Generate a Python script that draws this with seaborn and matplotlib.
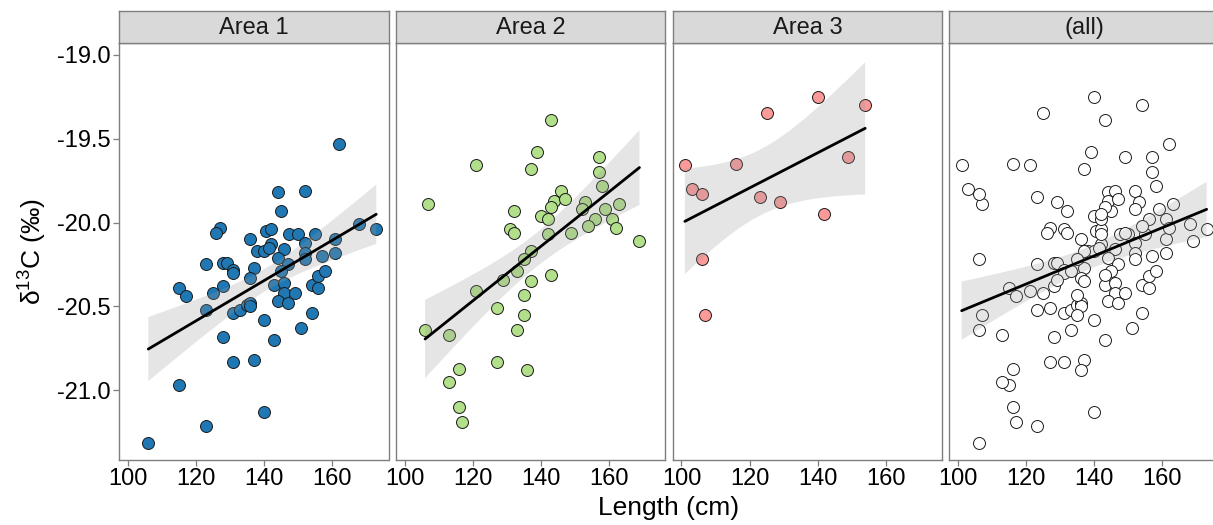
import numpy as np
import pandas as pd
import matplotlib
matplotlib.use("Agg")
import matplotlib.pyplot as plt
import seaborn as sns

# ---------------- data ----------------
area1_len = [162, 144, 152, 145, 127, 126, 140.5, 142, 136, 147.5, 150, 155, 142, 138, 140,
             141.5, 146, 152, 161, 168, 173, 123, 128, 129, 131, 131, 137, 144, 147, 152,
             152, 157, 161, 145, 136, 115, 117, 125, 128, 143, 146, 146, 149, 154, 156,
             158, 156, 123, 131, 133, 135, 136, 136, 144, 147, 140, 154, 151, 128, 143,
             131, 137, 115, 140, 123, 106]
area1_d13c = [-19.53, -19.82, -19.81, -19.93, -20.03, -20.06, -20.05, -20.04, -20.10, -20.07,
              -20.07, -20.07, -20.13, -20.17, -20.17, -20.15, -20.16, -20.12, -20.10, -20.01,
              -20.04, -20.25, -20.24, -20.24, -20.28, -20.30, -20.27, -20.21, -20.25, -20.18,
              -20.22, -20.20, -20.18, -20.29, -20.33, -20.39, -20.44, -20.42, -20.38, -20.37,
              -20.36, -20.42, -20.42, -20.37, -20.32, -20.29, -20.39, -20.52, -20.54, -20.52,
              -20.49, -20.48, -20.50, -20.47, -20.48, -20.58, -20.54, -20.63, -20.68, -20.70,
              -20.83, -20.82, -20.97, -21.13, -21.21, -21.31]

area2_len = [143, 139, 121, 137, 157, 157, 158, 107, 146, 144, 147, 143, 140, 142, 132, 153,
             152, 159, 163, 156, 154, 161, 162, 169, 131, 132, 142, 149, 137, 135, 133, 129,
             121, 137, 143, 135, 127, 135, 133, 106, 113, 127, 136, 116, 113, 116, 117]
area2_d13c = [-19.39, -19.58, -19.66, -19.68, -19.61, -19.70, -19.78, -19.89, -19.81, -19.87,
              -19.86, -19.91, -19.96, -19.98, -19.93, -19.88, -19.92, -19.92, -19.89, -19.98,
              -20.02, -19.98, -20.03, -20.11, -20.04, -20.06, -20.07, -20.06, -20.17, -20.22,
              -20.29, -20.34, -20.41, -20.35, -20.31, -20.43, -20.51, -20.55, -20.64, -20.64,
              -20.67, -20.83, -20.88, -20.87, -20.95, -21.10, -21.19]

area3_len = [140, 154, 125, 101, 116, 149, 103, 106, 123, 129, 142, 106, 107]
area3_d13c = [-19.25, -19.30, -19.35, -19.66, -19.65, -19.61, -19.80, -19.83, -19.85, -19.88,
              -19.95, -20.22, -20.55]

panel_titles = ["Area 1", "Area 2", "Area 3", "(all)"]
panel_colors = ["#1F78B4", "#B2DF8A", "#FB9A99", "#FFFFFF"]
x_ticks = [100, 120, 140, 160]
y_ticks = [-19.0, -19.5, -20.0, -20.5, -21.0]

df = pd.concat([
    pd.DataFrame({"length": area1_len, "d13c": area1_d13c, "area": "Area 1"}),
    pd.DataFrame({"length": area2_len, "d13c": area2_d13c, "area": "Area 2"}),
    pd.DataFrame({"length": area3_len, "d13c": area3_d13c, "area": "Area 3"}),
], ignore_index=True)


def t975(dof):
    # Cornish-Fisher expansion of the Student t 97.5% quantile
    z = 1.959963985
    return (z + (z**3 + z) / (4 * dof)
            + (5 * z**5 + 16 * z**3 + 3 * z) / (96 * dof**2)
            + (3 * z**7 + 19 * z**5 + 17 * z**3 - 15 * z) / (384 * dof**3))


def lm_band(x, y, n=100):
    x = np.asarray(x, float)
    y = np.asarray(y, float)
    b1, b0 = np.polyfit(x, y, 1)
    resid = y - (b0 + b1 * x)
    dof = len(x) - 2
    s = np.sqrt(np.sum(resid**2) / dof)
    xg = np.linspace(x.min(), x.max(), n)
    se = s * np.sqrt(1 / len(x) + (xg - x.mean())**2 / np.sum((x - x.mean())**2))
    yg = b0 + b1 * xg
    t = t975(dof)
    return xg, yg - t * se, yg + t * se


# ---------------- style ----------------
sns.set_theme(style="white")
plt.rcParams["font.family"] = ["Liberation Sans", "DejaVu Sans"]
plt.rcParams["axes.unicode_minus"] = False
plt.rcParams["mathtext.fontset"] = "custom"
plt.rcParams["mathtext.rm"] = "Liberation Sans"
plt.rcParams["mathtext.it"] = "Liberation Sans:italic"

W, H = 1213, 525
fig = plt.figure(figsize=(W / 100, H / 100), dpi=100)

border = "#7F7F7F"
panel_left = [119.0, 395.8, 672.6, 949.4]
panel_w = 269.5
panel_top, panel_bot = 43.3, 460.0
strip_top = 11.0

for i, title in enumerate(panel_titles):
    l = panel_left[i]
    ax = fig.add_axes([l / W, 1 - panel_bot / H, panel_w / W, (panel_bot - panel_top) / H])
    sub = df if title == "(all)" else df[df["area"] == title]
    sns.regplot(data=sub, x="length", y="d13c", ax=ax, ci=None, truncate=True,
                scatter_kws=dict(s=74, facecolor=panel_colors[i], edgecolor="#1a1a1a",
                                 linewidths=0.7, alpha=1, zorder=1),
                line_kws=dict(color="black", lw=2.0, zorder=3))
    xg, lo, hi = lm_band(sub["length"], sub["d13c"])
    ax.fill_between(xg, lo, hi, facecolor="#999999", alpha=0.25, edgecolor="none", zorder=2)

    ax.set_xlim(97.4, 176.6)
    ax.set_ylim(-21.414, -18.933)
    ax.set_xticks(x_ticks)
    ax.set_xticklabels([str(t) for t in x_ticks])
    ax.set_yticks(y_ticks)
    if i == 0:
        ax.set_yticklabels([f"{t:.1f}" for t in y_ticks])
        ax.tick_params(axis="y", left=True, length=4, width=0.9, color=border,
                       labelsize=17, labelcolor="black", pad=2)
    else:
        ax.tick_params(axis="y", left=False, labelleft=False)
    ax.tick_params(axis="x", bottom=True, length=4, width=0.9, color=border,
                   labelsize=17, labelcolor="black", pad=2)
    ax.set_xlabel("")
    ax.set_ylabel("")
    for sp in ax.spines.values():
        sp.set_color(border)
        sp.set_linewidth(1.0)
        sp.set_visible(True)
    ax.set_facecolor("white")

    # strip
    sax = fig.add_axes([l / W, 1 - panel_top / H, panel_w / W, (panel_top - strip_top) / H])
    sax.set_facecolor("#D9D9D9")
    sax.set_xticks([])
    sax.set_yticks([])
    for sp in sax.spines.values():
        sp.set_color(border)
        sp.set_linewidth(1.0)
    sax.text(0.5, 0.47, title, ha="center", va="center", fontsize=17,
             color="#1a1a1a", transform=sax.transAxes)

fig.text(669 / W, 1 - 508 / H, "Length (cm)", ha="center", va="center", fontsize=19,
         color="black")
fig.text(33 / W, 1 - 252 / H, r"δ$^{13}$C (‰)", ha="center", va="center", fontsize=19,
         rotation=90, color="black")

fig.savefig("out.png", dpi=100)
